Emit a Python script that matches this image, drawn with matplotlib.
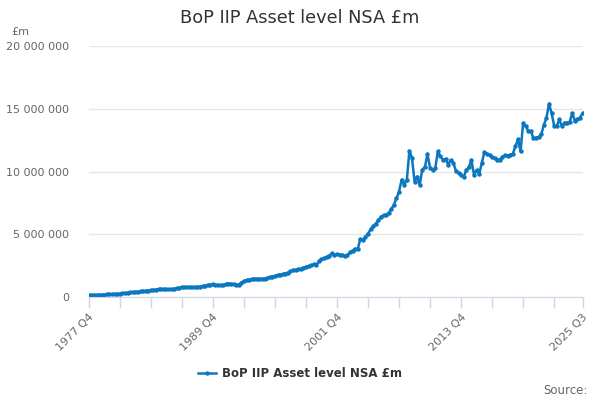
import matplotlib
matplotlib.use('Agg')
import matplotlib.pyplot as plt
from matplotlib.ticker import FuncFormatter, FixedLocator
import numpy as np

# quarterly series, 1977 Q4 .. 2025 Q3, in £ trillion (x 1e6 gives £m)
start_year, start_q = 1977, 4
asset_trn = [
    0.15,                     # 1977 Q4
    0.15, 0.16, 0.16, 0.17,   # 1978
    0.18, 0.19, 0.20, 0.21,   # 1979
    0.22, 0.23, 0.24, 0.26,   # 1980
    0.28, 0.31, 0.34, 0.37,   # 1981
    0.38, 0.40, 0.43, 0.45,   # 1982
    0.47, 0.49, 0.51, 0.53,   # 1983
    0.56, 0.59, 0.62, 0.64,   # 1984
    0.62, 0.61, 0.60, 0.62,   # 1985
    0.66, 0.69, 0.74, 0.76,   # 1986
    0.79, 0.80, 0.78, 0.76,   # 1987
    0.77, 0.80, 0.83, 0.87,   # 1988
    0.90, 0.95, 0.98, 1.00,   # 1989
    0.98, 0.96, 0.93, 0.95,   # 1990
    1.02, 1.07, 1.04, 1.00,   # 1991
    0.98, 0.97, 1.15, 1.27,   # 1992
    1.33, 1.38, 1.43, 1.46,   # 1993
    1.45, 1.43, 1.44, 1.47,   # 1994
    1.52, 1.58, 1.62, 1.68,   # 1995
    1.74, 1.77, 1.82, 1.87,   # 1996
    1.95, 2.05, 2.14, 2.17,   # 1997
    2.20, 2.25, 2.33, 2.40,   # 1998
    2.45, 2.52, 2.59, 2.54,   # 1999
    2.85, 3.00, 3.10, 3.20,   # 2000
    3.30, 3.47, 3.35, 3.40,   # 2001
    3.38, 3.35, 3.30, 3.33,   # 2002
    3.55, 3.70, 3.85, 3.80,   # 2003
    4.60, 4.55, 4.80, 5.05,   # 2004
    5.40, 5.65, 5.85, 6.10,   # 2005
    6.40, 6.50, 6.55, 6.70,   # 2006
    7.00, 7.35, 7.85, 8.40,   # 2007
    9.35, 8.95, 9.30, 11.65,  # 2008
    11.10, 9.20, 9.60, 8.95,  # 2009
    10.15, 10.35, 11.40, 10.30,  # 2010
    10.15, 10.25, 11.60, 11.20,  # 2011
    10.95, 11.00, 10.55, 10.90,  # 2012
    10.70, 10.05, 9.90, 9.75,    # 2013
    9.55, 10.10, 10.35, 10.90,   # 2014
    9.75, 10.10, 9.80, 10.65,    # 2015
    11.55, 11.40, 11.30, 11.15,  # 2016
    11.05, 10.95, 10.95, 11.15,  # 2017
    11.30, 11.25, 11.35, 11.40,  # 2018
    12.00, 12.55, 11.60, 13.85,  # 2019
    13.60, 13.25, 13.20, 12.65,  # 2020
    12.70, 12.75, 12.95, 13.70,  # 2021
    14.25, 15.40, 14.65, 13.65,  # 2022
    13.60, 14.15, 13.60, 13.90,  # 2023
    13.85, 13.95, 14.65, 14.05,  # 2024
    14.15, 14.30, 14.65,         # 2025
]
values = np.array(asset_trn) * 1e6

labels = []
y, q = start_year, start_q
for _ in values:
    labels.append(f'{y} Q{q}')
    q += 1
    if q > 4:
        q, y = 1, y + 1

x = np.arange(len(values))
line_col = '#0a77c0'
grey = '#666666'

fig = plt.figure(figsize=(6, 4), dpi=100)
ax = fig.add_axes([0.148, 0.2575, 0.823, 0.6275])

ax.plot(x, values, color=line_col, lw=1.8, marker='o', ms=2.2,
        label='BoP IIP Asset level NSA £m')

ax.set_xlim(0, len(values) - 1)
ax.set_ylim(0, 20e6)
ax.set_yticks(np.arange(0, 20e6 + 1, 5e6))
ax.yaxis.set_major_formatter(FuncFormatter(lambda v, p: f'{int(v):,}'.replace(',', ' ')))
ax.grid(axis='y', color='#e6e6e6', lw=1)
ax.set_axisbelow(True)

# minor ticks every 3 years, labels every 12 years
ax.xaxis.set_minor_locator(FixedLocator(list(range(0, len(values), 12)) + [len(values) - 1]))
label_pos = [0, 48, 96, 144, len(values) - 1]
ax.set_xticks(label_pos)
ax.set_xticklabels([labels[i] for i in label_pos], rotation=45, ha='right',
                   rotation_mode='anchor', color=grey, fontsize=8)
ax.tick_params(axis='x', which='both', length=8, color='#ccd6eb', width=1, pad=3)
ax.tick_params(axis='y', length=0, labelsize=8, labelcolor=grey, pad=14)

for s in ['top', 'right', 'left']:
    ax.spines[s].set_visible(False)
ax.spines['bottom'].set_color('#ccd6eb')

fig.text(0.5, 0.955, 'BoP IIP Asset level NSA £m', ha='center', va='center',
         fontsize=12.8, color='#333333')
fig.text(0.018, 0.92, '£m', ha='left', va='center', fontsize=8, color=grey)
fig.text(0.98, 0.025, 'Source:', ha='right', va='center', fontsize=8.5, color=grey)

leg = fig.legend(loc='center', bbox_to_anchor=(0.5, 0.067), frameon=False,
                 prop={'weight': 'bold', 'size': 8.5}, handlelength=1.5,
                 handletextpad=0.5)
for t in leg.get_texts():
    t.set_color('#333333')

fig.savefig('out.png', dpi=100)
